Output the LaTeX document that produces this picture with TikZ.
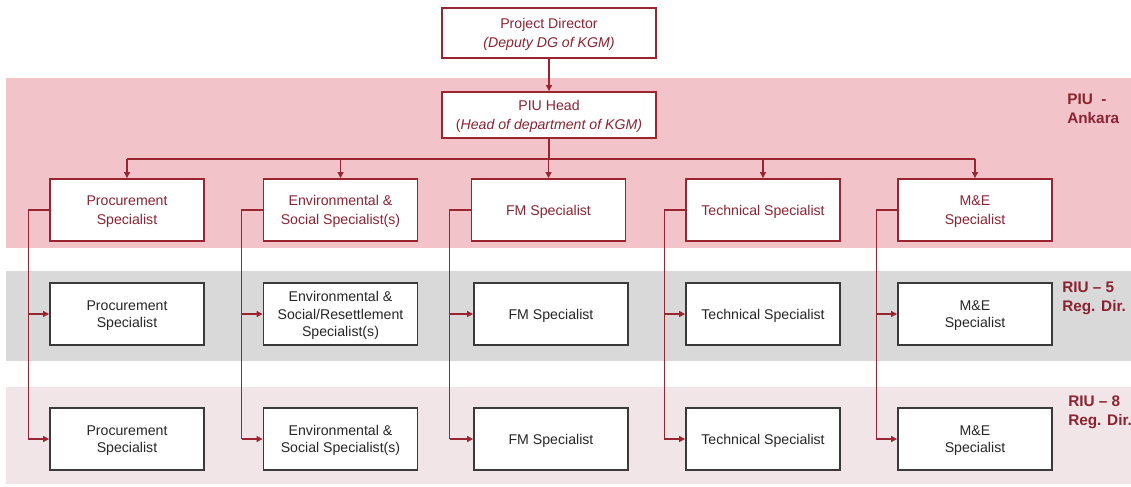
\documentclass[tikz,border=0pt]{standalone}
\usepackage{fontspec}
\setmainfont{Liberation Sans}
\usetikzlibrary{arrows.meta,calc}
\definecolor{dred}{HTML}{9A2530}
\definecolor{tred}{HTML}{8B2332}
\definecolor{bandpiu}{HTML}{F2C4C9}
\definecolor{bandgray}{HTML}{D9D9D9}
\definecolor{bandpink}{HTML}{F1E5E7}
\definecolor{boxgray}{HTML}{3A3A3A}
\definecolor{tgray}{HTML}{262626}
\tikzset{
  redbox/.style={draw=dred,line width=1.4pt,fill=white,text=tred,align=center,inner sep=0pt,text depth=0pt,
    minimum width=115.5pt,minimum height=46.5pt,font=\fontsize{10.6}{13.8}\selectfont},
  graybox/.style={draw=boxgray,line width=1.4pt,fill=white,text=tgray,align=center,inner sep=0pt,text depth=0pt,
    minimum width=115.5pt,minimum height=46.5pt,font=\fontsize{10.6}{13.3}\selectfont},
  conn/.style={draw=dred,line width=0.8pt},
  arr/.style={conn,-{Triangle[length=4.5pt,width=4.5pt]}},
  bandlabel/.style={text=tred,font=\bfseries\fontsize{11.5}{14}\selectfont,align=left,anchor=north west,inner sep=0pt},
}
\begin{document}
\begin{tikzpicture}[x=0.75pt,y=-0.75pt]
\useasboundingbox (0,0) rectangle (1131,486);
% bands
\fill[bandpiu] (6,78) rectangle (1131,248);
\fill[bandgray] (6,271) rectangle (1131,361);
\fill[bandpink] (6,387) rectangle (1131,484);
% band labels
\node[bandlabel] (lpiu) at (1067,94) {PIU\ \ -\\Ankara};
\node[bandlabel] (lriu5) at (1062,282) {RIU – 5\\Reg. Dir.};
\node[bandlabel] (lriu8) at (1068,396) {RIU – 8\\Reg. Dir.};
% top boxes
\node[redbox,minimum width=160.5pt,minimum height=37.5pt] (pd) at (549,33) {Project Director\\\textit{(Deputy DG of KGM)}};
\node[redbox,minimum width=160.5pt,minimum height=34.5pt] (piu) at (549,115) {PIU Head\\(\textit{Head of department of KGM)}};
% row 1
\node[redbox] (p1) at (127,210) {Procurement\\Specialist};
\node[redbox] (e1) at (340.5,210) {Environmental \&\\Social Specialist(s)};
\node[redbox] (f1) at (548.5,210) {FM Specialist};
\node[redbox] (t1) at (763,210) {Technical Specialist};
\node[redbox] (m1) at (975,210) {M\&E\\Specialist};
% row 2
\node[graybox] (p2) at (127,314) {Procurement\\Specialist};
\node[graybox] (e2) at (340.5,314) {Environmental \&\\Social/Resettlement\\Specialist(s)};
\node[graybox] (f2) at (551,314) {FM Specialist};
\node[graybox] (t2) at (763,314) {Technical Specialist};
\node[graybox] (m2) at (975,314) {M\&E\\Specialist};
% row 3
\node[graybox] (p3) at (127,439) {Procurement\\Specialist};
\node[graybox] (e3) at (340.5,439) {Environmental \&\\Social Specialist(s)};
\node[graybox] (f3) at (551,439) {FM Specialist};
\node[graybox] (t3) at (763,439) {Technical Specialist};
\node[graybox] (m3) at (975,439) {M\&E\\Specialist};
% top connectors
\draw[arr] (pd.south) -- (piu.north);
\coordinate (bus) at (549,159);
\draw[conn] (piu.south) -- (bus);
\draw[conn] (p1.north |- bus) -- (m1.north |- bus);
\foreach \n in {p1,e1,f1,t1,m1}{
  \draw[arr] (\n.north |- bus) -- (\n.north);
}
% side connectors
\foreach \a/\b/\c in {p1/p2/p3,e1/e2/e3,f1/f2/f3,t1/t2/t3,m1/m2/m3}{
  \coordinate (sl\a) at ($(\a.west)+(-21,0)$);
  \draw[conn] (\a.west) -- (sl\a) -- (sl\a |- \c.west);
  \draw[arr] (sl\a |- \b.west) -- (\b.west);
  \draw[arr] (sl\a |- \c.west) -- (\c.west);
}
\end{tikzpicture}
\end{document}
